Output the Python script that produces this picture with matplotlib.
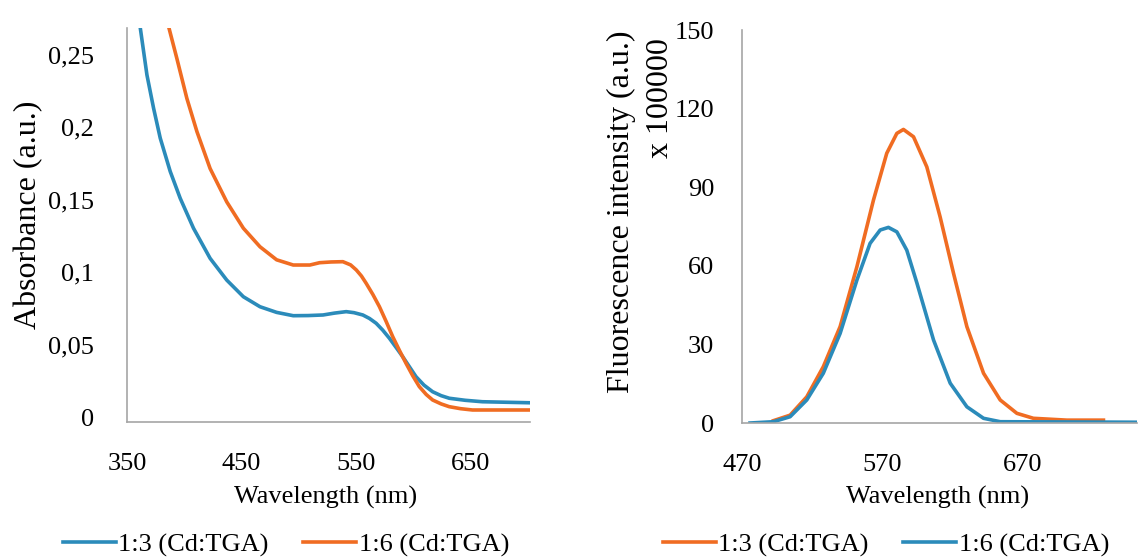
import matplotlib
matplotlib.use("Agg")
import matplotlib.pyplot as plt
import matplotlib.transforms as mtransforms

# ---- Absorbance data (left panel) ----
abs_wl_13 = [361.6, 367.4, 373.2, 379, 387.7, 396.4, 408, 422.5, 437, 451.5, 466, 480.5, 495,
             508, 521, 531, 541.2, 548, 555.7, 561.5, 567.3, 573, 578.9, 584.7, 590.5, 596.3,
             602.1, 609, 616.6, 624, 631.1, 645, 660, 700.7]
abs_13 = [0.272, 0.2396, 0.2166, 0.196, 0.173, 0.1545, 0.1338, 0.113, 0.098, 0.0865, 0.0796,
          0.0757, 0.0734, 0.0735, 0.0739, 0.0752, 0.0762, 0.0755, 0.0739, 0.0715, 0.0682, 0.0635,
          0.0578, 0.0515, 0.0451, 0.0382, 0.0313, 0.0255, 0.0209, 0.0182, 0.0164, 0.0150, 0.014,
          0.0133]
abs_wl_16 = [386.3, 393.5, 402.2, 411, 422.5, 437, 451.5, 466, 480.5, 495, 509.5, 518, 528,
             538.3, 545, 550, 554.5, 558.6, 564.5, 570.2, 576, 581.8, 587.6, 593.4, 599.2, 605,
             611, 616.6, 624, 631, 641, 651.4, 700.7]
abs_16 = [0.273, 0.251, 0.2235, 0.2005, 0.175, 0.152, 0.1338, 0.121, 0.112, 0.1084, 0.1084,
          0.110, 0.1105, 0.1107, 0.1085, 0.105, 0.1008, 0.0958, 0.088, 0.0796, 0.0695, 0.0589,
          0.0495, 0.0405, 0.032, 0.0244, 0.019, 0.0152, 0.0125, 0.0106, 0.0092, 0.0083, 0.0083]

# ---- Fluorescence data (right panel, x 100000) ----
fl_wl_13 = [492.4, 504.3, 516.2, 528, 540, 552, 563.8, 573.3, 580.5, 585.2, 592.4, 601.9,
            611.4, 621, 630.5, 642.4, 654.3, 666.2, 678, 701.9, 728]
fl_13 = [0.9, 3.0, 10.0, 21.5, 36.8, 59.7, 85.1, 103, 110.6, 112.1, 109.3, 97.8,
         78.7, 57.1, 36.8, 19, 8.8, 3.7, 1.8, 1.1, 1.1]
fl_wl_16 = [475.7, 492.4, 504.3, 516.2, 528, 540, 552, 561.4, 568.6, 574.5, 580.5, 587.6,
            594.8, 606.7, 618.6, 630.5, 642.4, 654.3, 752]
fl_16 = [0.0, 0.5, 2.4, 8.8, 19, 34.2, 54.6, 68.6, 73.7, 74.7, 73, 66,
         53.5, 31.7, 15.2, 6.2, 1.8, 0.5, 0.3]

labels = ["1:3 (Cd:TGA)", "1:6 (Cd:TGA)"]
left_xticks = [350, 450, 550, 650]
left_yticks = [0, 0.05, 0.1, 0.15, 0.2, 0.25]
left_yticklabels = ["0", "0,05", "0,1", "0,15", "0,2", "0,25"]
right_xticks = [470, 570, 670]
right_yticks = [0, 30, 60, 90, 120, 150]

BLUE = "#2b8bba"
ORANGE = "#f06c22"
AXC = "#a6a6a6"

plt.rcParams['font.family'] = ['Liberation Serif', 'DejaVu Serif']
FS = 19

fig = plt.figure(figsize=(11.39, 5.58), dpi=100)
ax1 = fig.add_axes([0.1115, 0.2437, 0.3538, 0.706])
ax2 = fig.add_axes([0.6515, 0.2419, 0.3468, 0.704])

lw = 2.6
l1, = ax1.plot(abs_wl_13, abs_13, color=BLUE, lw=lw, label=labels[0])
l2, = ax1.plot(abs_wl_16, abs_16, color=ORANGE, lw=lw, label=labels[1])
ax1.set_xlim(350, 701.5)
ax1.set_ylim(0, 0.272)
ax1.set_xticks(left_xticks)
ax1.set_yticks(left_yticks)
ax1.set_yticklabels(left_yticklabels)

r1, = ax2.plot(fl_wl_13, fl_13, color=ORANGE, lw=lw, label=labels[0])
r2, = ax2.plot(fl_wl_16, fl_16, color=BLUE, lw=lw, label=labels[1])
ax2.set_xlim(470, 752)
ax2.set_ylim(0, 150)
ax2.set_xticks(right_xticks)
ax2.set_yticks(right_yticks)

for ax in (ax1, ax2):
    for s in ("top", "right"):
        ax.spines[s].set_visible(False)
    for s in ("left", "bottom"):
        ax.spines[s].set_color(AXC)
        ax.spines[s].set_linewidth(1.2)
    ax.tick_params(axis="both", length=0, labelsize=FS)
    ax.tick_params(axis="x", pad=22)
ax1.tick_params(axis="y", pad=24)
ax2.tick_params(axis="y", pad=20)

# reference places left y tick labels slightly above their gridline positions
shift = mtransforms.ScaledTranslation(0, 5 / 100, fig.dpi_scale_trans)
for lab in ax1.get_yticklabels():
    lab.set_transform(lab.get_transform() + shift)

fig.text(326 / 1139, 1 - 497 / 558, "Wavelength (nm)", ha="center", va="center", fontsize=FS)
fig.text(938 / 1139, 1 - 497 / 558, "Wavelength (nm)", ha="center", va="center", fontsize=FS)

fig.text(29 / 1139, 1 - 215 / 558, "Absorbance (a.u.)", rotation=90,
         ha="center", va="center", fontsize=23)
fig.text(621 / 1139, 1 - 212 / 558, "Fluorescence intensity (a.u.)", rotation=90,
         ha="center", va="center", fontsize=23)
fig.text(660 / 1139, 1 - 38 / 558, "x 100000", rotation=90,
         ha="center", va="top", fontsize=23)

leg_kw = dict(loc="center", frameon=False, ncol=2, fontsize=FS, handlelength=2.0,
              handletextpad=0.1, columnspacing=1.3, borderaxespad=0)
fig.legend([l1, l2], labels, bbox_to_anchor=(286 / 1139, 1 - 545 / 558), **leg_kw)
fig.legend([r1, r2], labels, bbox_to_anchor=(886 / 1139, 1 - 545 / 558), **leg_kw)

fig.savefig("out.png", dpi=100)
